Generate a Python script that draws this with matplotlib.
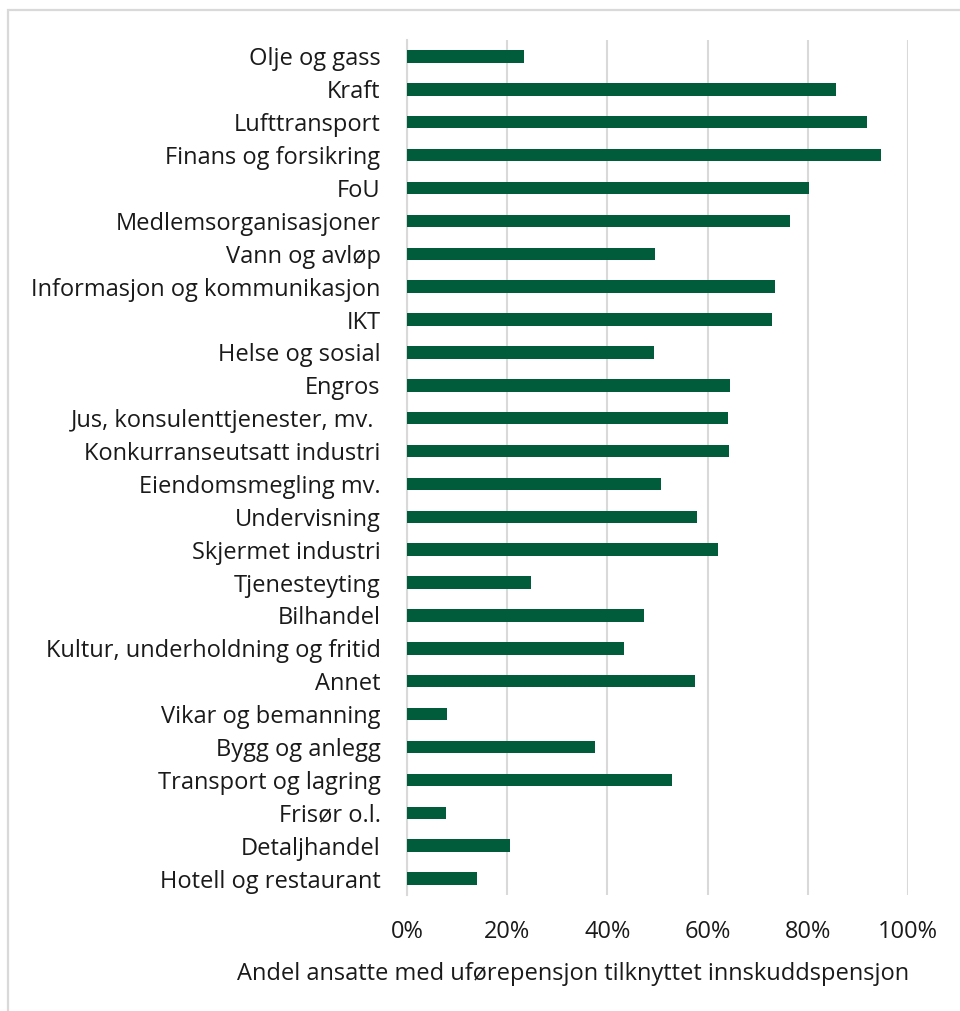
import matplotlib
matplotlib.use("Agg")
import matplotlib.pyplot as plt
from matplotlib.patches import Rectangle
from matplotlib.ticker import PercentFormatter

plt.rcParams['font.family'] = ['Open Sans', 'DejaVu Sans']

# Industries, top to bottom
industries = [
    "Olje og gass", "Kraft", "Lufttransport", "Finans og forsikring", "FoU",
    "Medlemsorganisasjoner", "Vann og avløp", "Informasjon og kommunikasjon",
    "IKT", "Helse og sosial", "Engros", "Jus, konsulenttjenester, mv. ",
    "Konkurranseutsatt industri", "Eiendomsmegling mv.", "Undervisning",
    "Skjermet industri", "Tjenesteyting", "Bilhandel",
    "Kultur, underholdning og fritid", "Annet", "Vikar og bemanning",
    "Bygg og anlegg", "Transport og lagring", "Frisør o.l.", "Detaljhandel",
    "Hotell og restaurant",
]

# Share of employees with disability pension (percent)
shares = [
    23.3, 85.7, 91.8, 94.6, 80.2, 76.5, 49.6, 73.4, 72.8, 49.4, 64.4, 64.0,
    64.2, 50.6, 57.8, 62.0, 24.8, 47.3, 43.4, 57.5, 7.9, 37.5, 52.8, 7.7,
    20.6, 14.0,
]

xticks = [0, 20, 40, 60, 80, 100]
xlabel = "Andel ansatte med uførepensjon tilknyttet innskuddspensjon"

barColor = "#005C3B"
gridColor = "#D9D9D9"
textColor = "#1a1a1a"
fontSize = 17

fig = plt.figure(figsize=(9.6, 10.11), dpi=100)
ax = fig.add_axes([407 / 960, 1 - 895 / 1011, 501 / 960, 855 / 1011])

ypos = list(range(len(industries)))
ax.barh(ypos, shares, height=0.38, color=barColor, zorder=3)

ax.set_ylim(len(industries) - 0.5, -0.5)
ax.set_xlim(0, 100)
ax.set_yticks(ypos)
ax.set_yticklabels(industries, fontsize=fontSize, color=textColor)
ax.set_xticks(xticks)
ax.xaxis.set_major_formatter(PercentFormatter(decimals=0))
ax.tick_params(axis='x', labelsize=fontSize, labelcolor=textColor,
               length=0, pad=18)
ax.tick_params(axis='y', length=0, pad=19)

# Vertical gridlines only
ax.grid(axis='x', color=gridColor, linewidth=1.5, zorder=0)
for side in ["top", "right", "bottom"]:
    ax.spines[side].set_visible(False)
ax.spines["left"].set_color(gridColor)
ax.spines["left"].set_linewidth(1.5)

# Axis title sits left of the plot centre so it fits the figure
ax.set_xlabel(xlabel, fontsize=fontSize, color=textColor)
ax.xaxis.set_label_coords(0.331, -0.078)

# Light frame around the whole chart
frame = Rectangle((8 / 960, -0.1), 1.2, 1 - 10 / 1011 + 0.1,
                  transform=fig.transFigure, fill=False,
                  edgecolor=gridColor, linewidth=1.6, clip_on=False)
fig.patches.append(frame)

fig.savefig("out.png", dpi=100, facecolor="white")
